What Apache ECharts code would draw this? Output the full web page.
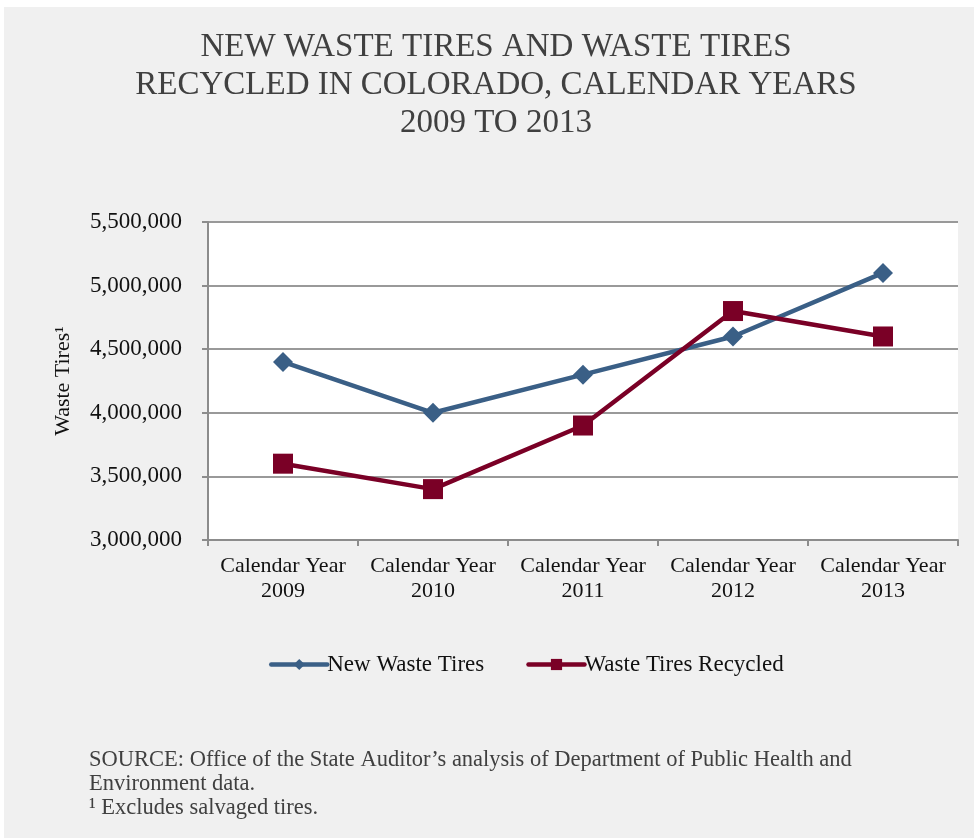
<!DOCTYPE html>
<html><head><meta charset="utf-8">
<script src="https://cdn.jsdelivr.net/npm/echarts@6/dist/echarts.min.js"></script>
<style>html,body{margin:0;padding:0;background:#fff}#c{width:974px;height:838px}</style>
</head><body><div id="c"></div>
<script>
const categories = ['Calendar Year\n2009','Calendar Year\n2010','Calendar Year\n2011','Calendar Year\n2012','Calendar Year\n2013'];
const newWasteTires = [4400000, 4000000, 4300000, 4600000, 5100000];
const wasteTiresRecycled = [3600000, 3400000, 3900000, 4800000, 4600000];
const titleLines = ['NEW WASTE TIRES AND WASTE TIRES','RECYCLED IN COLORADO, CALENDAR YEARS','2009 TO 2013'];
const sourceLines = ['SOURCE: Office of the State Auditor\u2019s analysis of Department of Public Health and','Environment data.','\u00b9 Excludes salvaged tires.'];

const FONT = '"Liberation Serif", "DejaVu Serif", serif';
const chart = echarts.init(document.getElementById('c'));
chart.setOption({
  backgroundColor: '#fff',
  animation: false,
  graphic: [
    {type:'rect', shape:{x:4,y:7,width:970,height:831}, style:{fill:'#f0f0f0'}, z:-10},
    {type:'rect', shape:{x:208,y:222,width:750,height:318}, style:{fill:'#fff'}, z:-5},
    {type:'text', x:496, y:28, style:{text:titleLines.join('\n'), font:'33px '+FONT, fill:'#404040', align:'center', verticalAlign:'top', lineHeight:38}},
    {type:'text', x:89, y:748, style:{text:sourceLines.join('\n'), font:'22.5px '+FONT, fill:'#404040', lineHeight:24, verticalAlign:'top'}}
  ],
  grid: {left:208, right:16, top:222, bottom:298},
  legend: {
    top: 648, left: 264, itemWidth: 56, itemHeight: 14, itemGap: 42,
    textStyle: {fontFamily: FONT, fontSize: 23, color: '#111', padding:[0,0,0,-5]},
    lineStyle: {width: 4.5, cap: 'round'},
    data: ['New Waste Tires','Waste Tires Recycled']
  },
  xAxis: {
    type:'category', data: categories, boundaryGap: true,
    axisLine:{lineStyle:{color:'#8c8c8c', width:2}},
    axisTick:{show:true, interval:0, length:6, lineStyle:{color:'#8c8c8c', width:2}},
    axisLabel:{interval:0, hideOverlap:false, fontFamily:FONT, fontSize:22, color:'#111', lineHeight:25, margin:14}
  },
  yAxis: {
    type:'value', min:3000000, max:5500000, interval:500000,
    name:'Waste Tires\u00b9', nameLocation:'middle', nameGap:134, nameRotate:90,
    nameTextStyle:{fontFamily:FONT, fontSize:22, color:'#111'},
    axisLine:{show:true, lineStyle:{color:'#8c8c8c', width:2}},
    axisTick:{show:true, length:6, lineStyle:{color:'#8c8c8c', width:2}},
    splitLine:{lineStyle:{color:'#999', width:2}},
    axisLabel:{fontFamily:FONT, fontSize:23, color:'#111', margin:26,
      formatter: v => v.toLocaleString('en-US')}
  },
  series: [
    {name:'New Waste Tires', type:'line', data:newWasteTires, symbol:'diamond', symbolSize:20,
     lineStyle:{color:'#3a5f86', width:4.5}, itemStyle:{color:'#3a5f86'}},
    {name:'Waste Tires Recycled', type:'line', data:wasteTiresRecycled, symbol:'rect', symbolSize:20,
     lineStyle:{color:'#7a0026', width:4.5}, itemStyle:{color:'#7a0026'}}
  ]
});
</script></body></html>
